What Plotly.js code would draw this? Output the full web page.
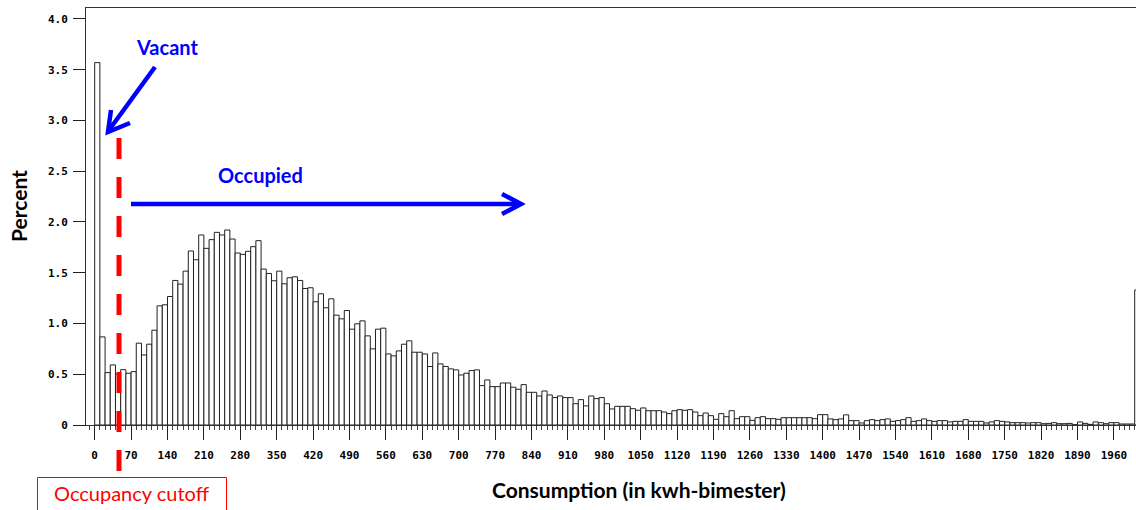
<!DOCTYPE html>
<html><head><meta charset="utf-8">
<script src="https://cdn.plot.ly/plotly-3.0.1.min.js"></script>
<style>html,body{margin:0;padding:0;background:#fff}#chart{width:1136px;height:510px}</style>
</head><body><div id="chart"></div>
<script>
// Histogram bins: width 10 kwh, first bin [0,10)
const binWidth = 10;
const firstBinCenter = 5;
const percent = [
 3.57, 0.868, 0.516, 0.592, 0.50, 0.545, 0.51, 0.526, 0.806, 0.69,
 0.796, 0.934, 1.174, 1.184, 1.266, 1.424, 1.388, 1.516, 1.714, 1.628,
 1.872, 1.74, 1.826, 1.898, 1.872, 1.921, 1.832, 1.694, 1.681, 1.711,
 1.757, 1.816, 1.536, 1.493, 1.421, 1.516, 1.391, 1.451, 1.46, 1.424,
 1.345, 1.352, 1.214, 1.293, 1.155, 1.243, 1.082, 1.046, 1.128, 0.944,
 0.997, 1.026, 0.878, 0.75, 0.944, 0.954, 0.70, 0.681, 0.73, 0.796,
 0.829, 0.717, 0.717, 0.70, 0.576, 0.71, 0.602, 0.576, 0.553, 0.543,
 0.493, 0.51, 0.536, 0.543, 0.388, 0.444, 0.378, 0.378, 0.414, 0.414,
 0.372, 0.352, 0.398, 0.322, 0.322, 0.286, 0.335, 0.296, 0.27, 0.286,
 0.27, 0.27, 0.21, 0.25, 0.188, 0.286, 0.26, 0.27, 0.21, 0.158,
 0.184, 0.184, 0.184, 0.161, 0.145, 0.168, 0.141, 0.141, 0.141, 0.128,
 0.112, 0.141, 0.151, 0.145, 0.151, 0.128, 0.092, 0.118, 0.092, 0.056,
 0.112, 0.082, 0.141, 0.0625, 0.082, 0.082, 0.046, 0.072, 0.082, 0.0625,
 0.0625, 0.056, 0.072, 0.072, 0.072, 0.072, 0.072, 0.072, 0.0625, 0.102,
 0.102, 0.06, 0.053, 0.06, 0.1, 0.043, 0.043, 0.02, 0.043, 0.053,
 0.043, 0.053, 0.06, 0.036, 0.043, 0.053, 0.072, 0.036, 0.043, 0.06,
 0.043, 0.036, 0.043, 0.043, 0.03, 0.036, 0.036, 0.053, 0.036, 0.036,
 0.036, 0.02, 0.03, 0.043, 0.036, 0.03, 0.023, 0.023, 0.023, 0.02,
 0.023, 0.023, 0.013, 0.016, 0.023, 0.013, 0.013, 0.016, 0.003, 0.03,
 0.016, 0.006, 0.03, 0.023, 0.013, 0.023, 0.023, 0.01, 0.01, 0.01,
 1.33
];
const xTickVals = [0,70,140,210,280,350,420,490,560,630,700,770,840,910,980,1050,1120,1190,1260,1330,1400,1470,1540,1610,1680,1750,1820,1890,1960];
const yTickVals = [0,0.5,1,1.5,2,2.5,3,3.5,4];
const yTickText = ['0','0.5','1.0','1.5','2.0','2.5','3.0','3.5','4.0'];

const W = 1136, H = 510, L = 86, R = 0, T = 8, B = 85;
function px(x){ return (x - L) / (W - L - R); }
function py(y){ return (H - B - y) / (H - T - B); }
function path(pts){ return pts.map((p,i)=>(i?'L':'M')+px(p[0]).toFixed(5)+','+py(p[1]).toFixed(5)).join(' '); }

const tickFont = {family:'DejaVu Sans Mono', size:11, color:'#000', weight:'bold'};
const labFont = {family:'Lato', size:21, color:'#000', weight:'bold'};
const blue = '#0000ff';

const trace = {
  type:'bar', x0:firstBinCenter, dx:binWidth, y:percent, width:binWidth,
  marker:{color:'#ffffff', line:{color:'#222', width:1}},
  hoverinfo:'skip'
};

const layout = {
  width:W, height:H, margin:{l:L, r:R, t:T, b:B, pad:0},
  paper_bgcolor:'#fff', plot_bgcolor:'#fff', showlegend:false, bargap:0,
  xaxis:{range:[-16.7, 2002.5], tickmode:'array', tickvals:xTickVals,
    ticks:'outside', ticklen:14, tickwidth:1, tickcolor:'#222', tickfont:tickFont,
    ticklabelstandoff:6,
    showline:true, linecolor:'#333', linewidth:1, mirror:true, zeroline:false, showgrid:false,
    minor:{ticks:'outside', ticklen:4, tick0:0, dtick:10, tickcolor:'#444', tickwidth:1, showgrid:false},
    fixedrange:true},
  yaxis:{range:[0, 4.108], tickmode:'array', tickvals:yTickVals, ticktext:yTickText,
    ticks:'outside', ticklen:12, tickwidth:1, tickcolor:'#222', tickfont:tickFont,
    ticklabelstandoff:3,
    showline:true, linecolor:'#333', linewidth:1, zeroline:false, showgrid:false, fixedrange:true},
  shapes:[
    {type:'line', xref:'paper', yref:'paper', x0:px(119), x1:px(119), y0:py(138), y1:py(477),
      line:{color:'#ff0000', width:5, dash:'21px,18px'}},
    {type:'rect', xref:'paper', yref:'paper', x0:px(37.5), x1:px(226.5), y0:py(477.5), y1:py(520),
      line:{color:'#ff0000', width:1}, fillcolor:'rgba(0,0,0,0)'},
    {type:'path', xref:'paper', yref:'paper', path:path([[155,67],[108,131.5]]), line:{color:blue, width:4.5}},
    {type:'path', xref:'paper', yref:'paper', path:path([[111,110],[108,132],[130,123]]), line:{color:blue, width:4.5}},
    {type:'path', xref:'paper', yref:'paper', path:path([[131,204],[519,204]]), line:{color:blue, width:4.5}},
    {type:'path', xref:'paper', yref:'paper', path:path([[502,194],[521,204],[502,214]]), line:{color:blue, width:4.5}}
  ],
  annotations:[
    {xref:'paper', yref:'paper', x:px(166.5), y:py(47), text:'Vacant', showarrow:false,
      xanchor:'center', yanchor:'middle', font:{family:'Lato', size:20, color:blue, weight:'bold'}},
    {xref:'paper', yref:'paper', x:px(260), y:py(175), text:'Occupied', showarrow:false,
      xanchor:'center', yanchor:'middle', font:{family:'Lato', size:20, color:blue, weight:'bold'}},
    {xref:'paper', yref:'paper', x:px(131.5), y:py(493), text:'Occupancy cutoff', showarrow:false,
      xanchor:'center', yanchor:'middle', font:{family:'Lato', size:20, color:'#ff0000'}},
    {xref:'paper', yref:'paper', x:px(18), y:py(206), text:'Percent', showarrow:false, textangle:-90,
      xanchor:'center', yanchor:'middle', font:labFont},
    {xref:'paper', yref:'paper', x:px(639), y:py(490), text:'Consumption (in kwh-bimester)', showarrow:false,
      xanchor:'center', yanchor:'middle', font:labFont}
  ]
};

Plotly.newPlot('chart', [trace], layout, {staticPlot:true, displayModeBar:false});
</script></body></html>
